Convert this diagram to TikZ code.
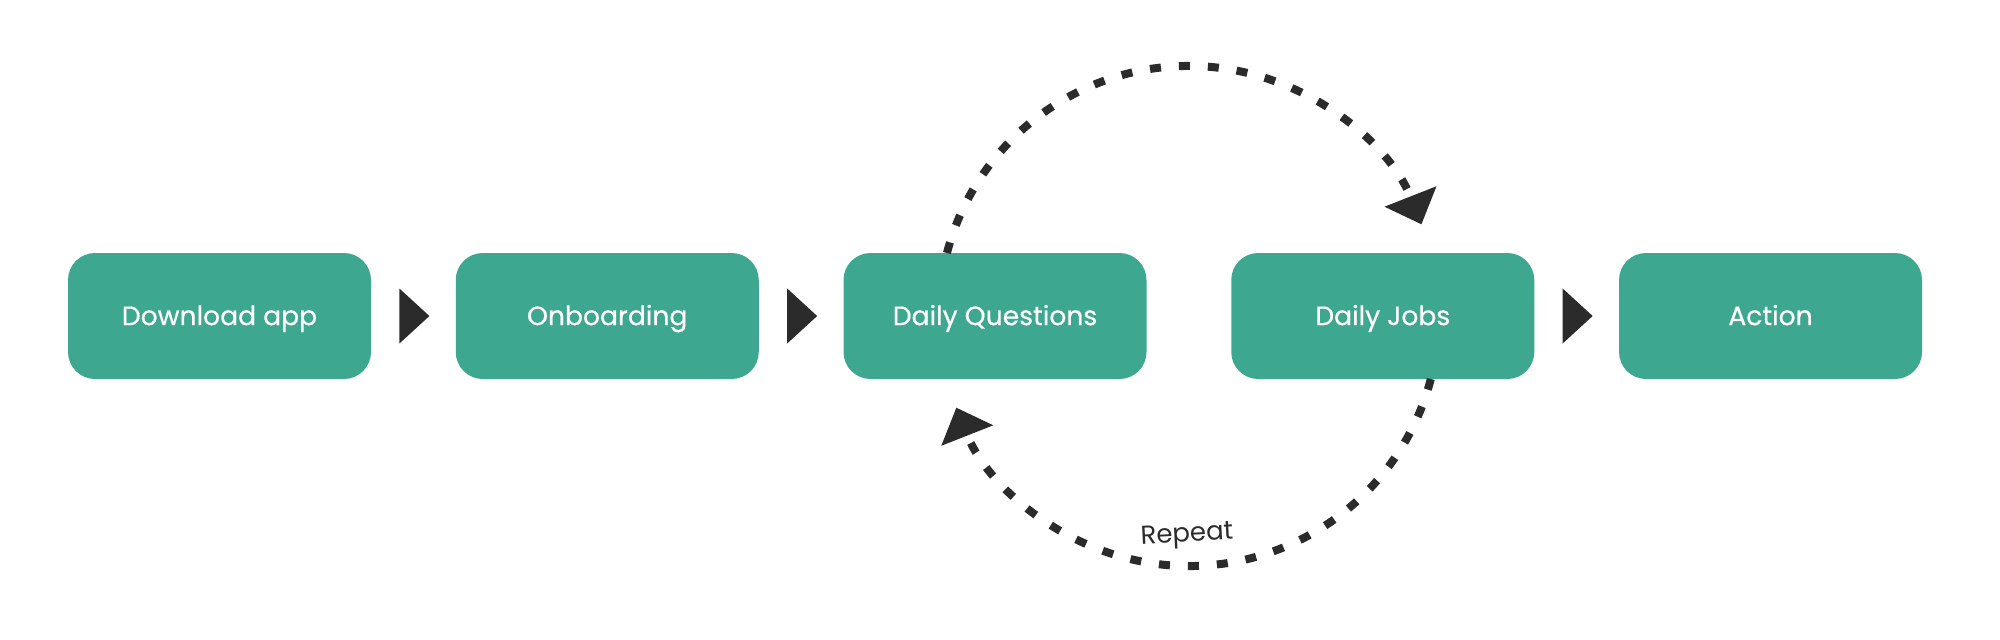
\documentclass[tikz,border=0pt]{standalone}
\usepackage{fontspec}
\setmainfont{Poppins}
\newfontfamily\boxfont{Poppins}[FakeBold=0.5]
\usetikzlibrary{arrows.meta,calc}
\definecolor{teal1}{HTML}{3DA78F}
\definecolor{ink}{HTML}{2B2B2B}
\begin{document}
\begin{tikzpicture}[x=0.5pt,y=0.5pt,
  stepbox/.style={fill=teal1, rounded corners=13.5pt, minimum width=151.5pt, minimum height=63pt,
    inner sep=0pt, text=white, text height=9.1pt, text depth=0pt, font=\boxfont\fontsize{13.3}{15}\selectfont},
  loop/.style={draw=ink, line width=4pt, dash pattern=on 5.5pt off 9pt,
    -{Triangle[length=15pt,width=27pt,fill=ink]}},
  tri/.style={fill=ink},
  lbl/.style={text=ink, inner sep=0pt, font=\fontsize{13}{15}\selectfont}]
\useasboundingbox (0,0) rectangle (2000,639);
\node[stepbox] (a)   at (219.5,323)  {Download app};
\node[stepbox] (b)   at (607.25,323) {Onboarding};
\node[stepbox] (dq)  at (995,323)    {Daily Questions};
\node[stepbox] (dj)  at (1382.75,323){Daily Jobs};
\node[stepbox] (act) at (1770.5,323) {Action};
\coordinate (c) at ($(dq.center)!0.5!(dj.center)$);
\draw[loop] ([shift={(165.4:125pt)}]c) arc[start angle=165.4, end angle=21.5, radius=125pt];
\draw[loop] ([shift={(-14.6:125pt)}]c) arc[start angle=-14.6, end angle=-158.5, radius=125pt];
\node[lbl, rotate=3] (rep) at (1187,103) {Repeat};
\foreach \p in {a,b,dj}
  \fill[tri] ($(\p.east)+(28,27.5)$) -- ++(30,-27.5) -- ++(-30,-27.5) -- cycle;
\end{tikzpicture}
\end{document}
